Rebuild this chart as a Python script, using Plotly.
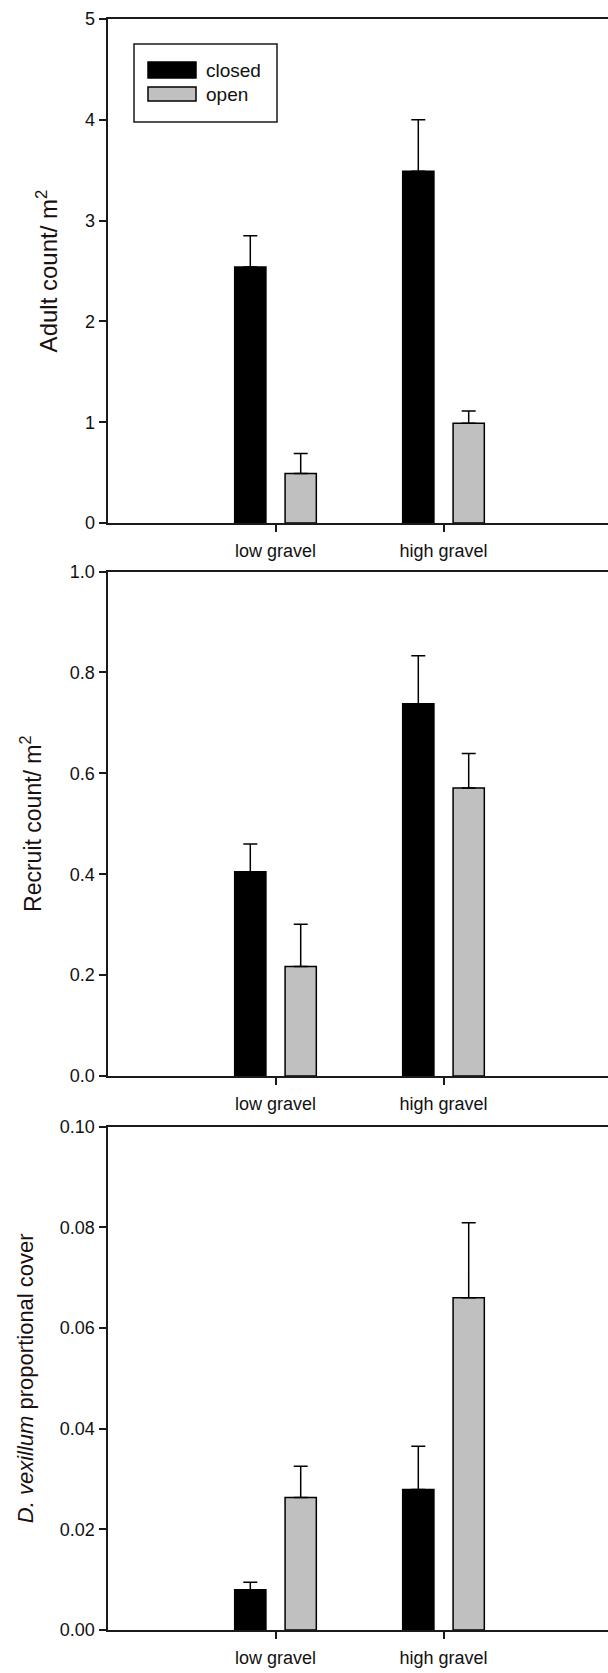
import plotly.graph_objects as go

# Category positions and labels
categories = ["low gravel", "high gravel"]
cat_pos = [0, 1]

# Adult density (mean, SE)
adult_closed = [2.54, 3.49]
adult_closed_se = [0.31, 0.51]
adult_open = [0.49, 0.99]
adult_open_se = [0.20, 0.12]

# Recruit density (mean, SE)
recruit_closed = [0.405, 0.738]
recruit_closed_se = [0.055, 0.095]
recruit_open = [0.217, 0.571]
recruit_open_se = [0.084, 0.068]

# D. vexillum proportional cover (mean, SE)
cover_closed = [0.0080, 0.0279]
cover_closed_se = [0.0015, 0.0086]
cover_open = [0.0263, 0.0660]
cover_open_se = [0.0062, 0.0149]

W, H = 608, 1673
FONT = "Arial, Liberation Sans, sans-serif"
AXIS_COLOR = "#1a1a1a"
CLOSED_COLOR = "#000000"
OPEN_COLOR = "#c0c0c0"


def fx(p):
    return p / W


def fy(p):
    return 1 - p / H


# plot areas in pixels: (top, bottom)
panels = [(19, 523), (571.5, 1076), (1126.5, 1630)]
x_left, x_right = 107.5, 608
x_range = [-1, -1 + (x_right - x_left) / 168.0]

series = [
    (adult_closed, adult_closed_se, adult_open, adult_open_se),
    (recruit_closed, recruit_closed_se, recruit_open, recruit_open_se),
    (cover_closed, cover_closed_se, cover_open, cover_open_se),
]
y_ranges = [[0, 5], [0, 1.0], [0, 0.10]]
y_dticks = [1, 0.2, 0.02]
y_formats = ["d", ".1f", ".2f"]
y_titles = [
    "Adult count/ m<sup>2</sup>",
    "Recruit count/ m<sup>2</sup>",
    "<i>D. vexillum</i> proportional cover",
]
title_sizes = [24, 23, 22]
title_standoff = [20, 22, 20]

fig = go.Figure()

for i, (c, cse, o, ose) in enumerate(series):
    n = "" if i == 0 else str(i + 1)
    xa, ya = "x" + n, "y" + n
    fig.add_trace(go.Bar(
        x=cat_pos, y=c, name="closed", xaxis=xa, yaxis=ya,
        width=0.186, offset=-0.243,
        marker=dict(color=CLOSED_COLOR, line=dict(color="#000000", width=1.5)),
        error_y=dict(type="data", array=cse, arrayminus=[0, 0], symmetric=False,
                     color="#000000", thickness=1.5, width=7),
        showlegend=False,
    ))
    fig.add_trace(go.Bar(
        x=cat_pos, y=o, name="open", xaxis=xa, yaxis=ya,
        width=0.186, offset=0.057,
        marker=dict(color=OPEN_COLOR, line=dict(color="#000000", width=1.5)),
        error_y=dict(type="data", array=ose, arrayminus=[0, 0], symmetric=False,
                     color="#000000", thickness=1.5, width=7),
        showlegend=False,
    ))

    top, bottom = panels[i]
    fig.layout["xaxis" + n] = dict(
        domain=[fx(x_left), fx(x_right)], anchor=ya, range=x_range,
        tickmode="array", tickvals=cat_pos, ticktext=categories,
        ticks="outside", ticklen=7, tickwidth=1.5, tickcolor=AXIS_COLOR,
        showline=True, linecolor=AXIS_COLOR, linewidth=2, mirror=True,
        showgrid=False, zeroline=False, fixedrange=True,
        ticklabelstandoff=3,
        tickfont=dict(family=FONT, size=18, color="#111111"),
    )
    fig.layout["yaxis" + n] = dict(
        domain=[fy(bottom), fy(top)], anchor=xa, range=y_ranges[i],
        dtick=y_dticks[i], tick0=0, tickformat=y_formats[i],
        ticks="outside", ticklen=7, tickwidth=1.5, tickcolor=AXIS_COLOR,
        showline=True, linecolor=AXIS_COLOR, linewidth=2, mirror=True,
        showgrid=False, zeroline=False, fixedrange=True,
        tickfont=dict(family=FONT, size=18, color="#111111"),
        title=dict(text=y_titles[i], standoff=title_standoff[i],
                   font=dict(family=FONT, size=title_sizes[i], color="#1a1010")),
    )

# Legend box in the top panel
shapes = [
    dict(type="rect", xref="paper", yref="paper",
         x0=fx(134), x1=fx(277), y0=fy(122), y1=fy(44),
         line=dict(color=AXIS_COLOR, width=1.5), fillcolor="white"),
    dict(type="rect", xref="paper", yref="paper",
         x0=fx(148), x1=fx(196), y0=fy(78), y1=fy(62),
         line=dict(color="#000000", width=1.5), fillcolor=CLOSED_COLOR),
    dict(type="rect", xref="paper", yref="paper",
         x0=fx(148), x1=fx(196), y0=fy(101), y1=fy(87),
         line=dict(color="#000000", width=1.5), fillcolor=OPEN_COLOR),
]
annotations = [
    dict(text="closed", xref="paper", yref="paper", x=fx(204), y=fy(70),
         xanchor="left", yanchor="middle", showarrow=False,
         font=dict(family=FONT, size=19, color="#111111")),
    dict(text="open", xref="paper", yref="paper", x=fx(204), y=fy(94),
         xanchor="left", yanchor="middle", showarrow=False,
         font=dict(family=FONT, size=19, color="#111111")),
]

fig.update_layout(
    width=W, height=H,
    margin=dict(l=0, r=0, t=0, b=0, autoexpand=False),
    paper_bgcolor="white", plot_bgcolor="white",
    barmode="overlay",
    shapes=shapes, annotations=annotations,
    font=dict(family=FONT, color="#111111"),
)

fig.write_html("out.html", config={"displayModeBar": False})
